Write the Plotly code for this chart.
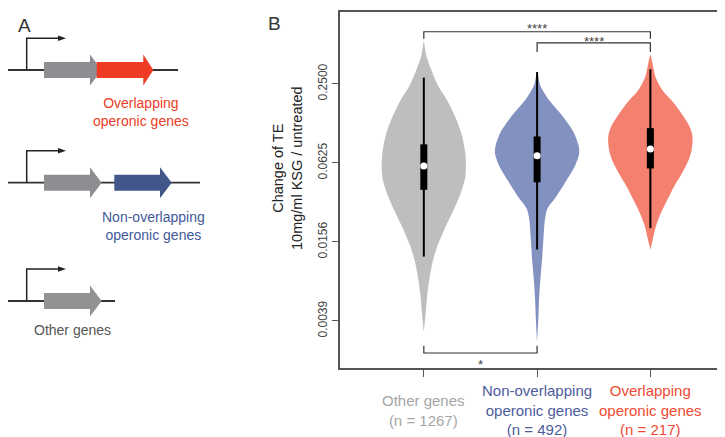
import plotly.graph_objects as go

# ---------------- data ----------------
categories = ["Other genes", "Non-overlapping<br>operonic genes", "Overlapping<br>operonic genes"]
counts = [1267, 492, 217]
label_colors = ["#A6A6A6", "#4D5C9C", "#EF4A33"]
fill_colors = ["#BEBEBE", "#8391C1", "#F4806F"]

# violin density profiles: log2(change of TE) and relative half-width
other_y = [-0.93, -1.27, -1.60, -2.03, -2.45, -2.87, -3.29, -3.71, -4.05, -4.39, -4.81,
           -5.23, -5.65, -6.08, -6.50, -6.92, -7.34, -7.76, -8.27]
other_w = [0, 0.055, 0.16, 0.33, 0.57, 0.76, 0.90, 0.98, 1.0, 0.98, 0.86,
           0.69, 0.50, 0.33, 0.21, 0.135, 0.08, 0.048, 0]
nonov_y = [-1.70, -2.03, -2.36, -2.78, -3.21, -3.54, -3.75, -4.05, -4.47, -4.89, -5.15,
           -5.40, -5.91, -6.41, -6.92, -7.43, -7.93, -8.52]
nonov_w = [0, 0.07, 0.25, 0.58, 0.86, 0.98, 1.0, 0.91, 0.68, 0.43, 0.25,
           0.19, 0.15, 0.12, 0.08, 0.048, 0.03, 0]
ov_y = [-1.27, -1.48, -1.82, -2.15, -2.49, -2.83, -3.08, -3.33, -3.67, -3.92, -4.26,
        -4.60, -4.94, -5.27, -5.61, -5.95, -6.19]
ov_w = [0, 0.05, 0.12, 0.28, 0.56, 0.79, 0.93, 1.0, 0.98, 0.91, 0.75,
        0.56, 0.40, 0.25, 0.13, 0.055, 0]

profiles_y = [other_y, nonov_y, ov_y]
profiles_w = [other_w, nonov_w, ov_w]

# box statistics (log2 units)
whisker_lo = [-6.37, -6.19, -5.65]
q1 = [-4.68, -4.49, -4.14]
median = [-4.08, -3.82, -3.65]
q3 = [-3.53, -3.33, -3.12]
whisker_hi = [-1.84, -1.70, -1.63]

# y tick labels
tick_log2 = [-2, -4, -6, -8]
tick_text = ["0.2500", "0.0625", "0.0156", "0.0039"]

# significance comparisons: (group a, group b, bracket level, tip level, stars, label level)
sig_pairs = [(0, 2, -0.68, -0.86, "****", -0.60),
             (1, 2, -0.96, -1.19, "****", -0.92),
             (0, 1, -8.81, -8.63, "*", -9.09)]

FONT = "Liberation Sans, Arial, sans-serif"
HALF_MAX = 0.372  # max half width of violins in category units

# page body has an 8px margin: figure is drawn offset by (8, 8)
OFF = 8
W, H = 725 - OFF, 437 - OFF


def px(x):
    return (x - OFF) / W


def py(y):
    return 1 - (y - OFF) / H


fig = go.Figure()

# violins
for i in range(3):
    ys = profiles_y[i]
    ws = profiles_w[i]
    xl = [i - w * HALF_MAX for w in ws]
    xr = [i + w * HALF_MAX for w in ws]
    fig.add_trace(go.Scatter(
        x=xl + xr[::-1], y=ys + ys[::-1], mode="lines", fill="toself",
        fillcolor=fill_colors[i], line=dict(width=0, shape="spline", smoothing=0.8),
        hoverinfo="skip", showlegend=False))

# whiskers, boxes, medians
for i in range(3):
    fig.add_trace(go.Scatter(x=[i, i], y=[whisker_lo[i], whisker_hi[i]], mode="lines",
                             line=dict(color="black", width=2), showlegend=False, hoverinfo="skip"))
    fig.add_trace(go.Scatter(x=[i, i], y=[q1[i], q3[i]], mode="lines",
                             line=dict(color="black", width=7), showlegend=False, hoverinfo="skip"))
fig.add_trace(go.Scatter(x=[0, 1, 2], y=median, mode="markers",
                         marker=dict(color="white", size=7, line=dict(width=0)),
                         showlegend=False, hoverinfo="skip"))

# significance brackets
for a, b, lvl, tip, stars, ly in sig_pairs:
    fig.add_trace(go.Scatter(x=[a, a, b, b], y=[tip, lvl, lvl, tip], mode="lines",
                             line=dict(color="#333333", width=1.2), showlegend=False, hoverinfo="skip"))
    fig.add_annotation(x=(a + b) / 2, y=ly, xref="x", yref="y", text=stars, showarrow=False,
                       font=dict(size=13, color="#444444", family=FONT), yanchor="middle")

# invisible trace for panel A axes
fig.add_trace(go.Scatter(x=[10], y=[10], xaxis="x2", yaxis="y2", mode="markers",
                         marker=dict(opacity=0), showlegend=False, hoverinfo="skip"))

fig.update_layout(
    width=W, height=H, margin=dict(l=0, r=0, t=0, b=0),
    paper_bgcolor="white", plot_bgcolor="white",
    font=dict(family=FONT, color="#333333"),
    xaxis=dict(domain=[px(340), px(724)], range=[-0.74, 2.65], showgrid=False, zeroline=False,
               showline=True, mirror=True, linecolor="#555555", linewidth=1.5,
               ticks="outside", ticklen=7, tickwidth=1.2, tickcolor="#555555",
               tickvals=[0, 1, 2], showticklabels=False),
    yaxis=dict(domain=[py(368), py(12)], range=[-9.19, -0.18], showgrid=False, zeroline=False,
               showline=True, mirror=True, linecolor="#555555", linewidth=1.5,
               ticks="outside", ticklen=6, tickwidth=1.2, tickcolor="#555555",
               tickvals=tick_log2, ticktext=tick_text, tickangle=-90,
               tickfont=dict(size=12, color="#444444", family=FONT)),
    # panel A drawing axes: units equal reference pixels
    xaxis2=dict(domain=[0, 220 / W], range=[OFF, 220 + OFF], visible=False, anchor="y2"),
    yaxis2=dict(domain=[0, 1], range=[437, OFF], visible=False, anchor="x2"),
)

# x category labels
for i in range(3):
    fig.add_annotation(x=i, y=py(410), xref="x", yref="paper",
                       text=f"{categories[i]}<br>(n = {counts[i]})", showarrow=False,
                       yanchor="middle", font=dict(size=15, color=label_colors[i], family=FONT))

# y axis title
fig.add_annotation(x=px(287), y=py(168), xref="paper", yref="paper",
                   text="Change of TE<br>10mg/ml KSG / untreated", textangle=-90, showarrow=False,
                   font=dict(size=14.5, color="#222222", family=FONT))

# panel letters
fig.add_annotation(x=px(16), y=py(13), xref="paper", yref="paper", text="A", showarrow=False,
                   font=dict(size=19, color="#333333", family=FONT))
fig.add_annotation(x=px(274), y=py(11), xref="paper", yref="paper", text="B", showarrow=False,
                   font=dict(size=19, color="#333333", family=FONT))

# ---------------- panel A schematic ----------------
shapes = []
gene_gray = "#8C8E91"


def arrow_path(x0, xh, xt, yc, bh, hh):
    return (f"M{x0},{yc - bh} L{xh},{yc - bh} L{xh},{yc - hh} L{xt},{yc} "
            f"L{xh},{yc + hh} L{xh},{yc + bh} L{x0},{yc + bh} Z")


def promoter(yc, ytop):
    shapes.append(dict(type="path", xref="x2", yref="y2",
                       path=f"M26.7,{yc} L26.7,{ytop} L59,{ytop}",
                       line=dict(color="#222222", width=1.5)))
    shapes.append(dict(type="path", xref="x2", yref="y2",
                       path=f"M58,{ytop - 2.8} L66,{ytop} L58,{ytop + 2.8} Z",
                       fillcolor="#222222", line=dict(width=0)))


rows = [
    (70, 38.3, 178),
    (182.7, 150.7, 200),
    (301, 269, 115),
]
for yc, ytop, xend in rows:
    shapes.append(dict(type="line", xref="x2", yref="y2", x0=8, x1=xend, y0=yc, y1=yc,
                       line=dict(color="#333333", width=1.8)))
    promoter(yc, ytop)

# row 1: gray + overlapping red
shapes.append(dict(type="path", xref="x2", yref="y2", path=arrow_path(44, 90, 101.7, 70, 8, 15.5),
                   fillcolor=gene_gray, line=dict(width=0)))
shapes.append(dict(type="path", xref="x2", yref="y2", path=arrow_path(96.7, 143.3, 153.3, 70, 8, 15.5),
                   fillcolor="#EF3B24", line=dict(width=0)))
# row 2: gray + separate blue
shapes.append(dict(type="path", xref="x2", yref="y2", path=arrow_path(44, 90, 101.7, 182.7, 8, 15.5),
                   fillcolor=gene_gray, line=dict(width=0)))
shapes.append(dict(type="path", xref="x2", yref="y2", path=arrow_path(114.3, 160, 171.7, 182.7, 8, 15.5),
                   fillcolor="#41578A", line=dict(width=0)))
# row 3: gray
shapes.append(dict(type="path", xref="x2", yref="y2", path=arrow_path(44, 90, 101.7, 301, 8, 15.5),
                   fillcolor="#909294", line=dict(width=0)))

fig.update_layout(shapes=shapes)

fig.add_annotation(x=141, y=112, xref="x2", yref="y2", text="Overlapping<br>operonic genes",
                   showarrow=False, yanchor="middle", font=dict(size=14, color="#EE3B24", family=FONT))
fig.add_annotation(x=153, y=225.5, xref="x2", yref="y2", text="Non-overlapping<br>operonic genes",
                   showarrow=False, yanchor="middle", font=dict(size=14, color="#43589A", family=FONT))
fig.add_annotation(x=72.5, y=330, xref="x2", yref="y2", text="Other genes",
                   showarrow=False, yanchor="middle", font=dict(size=14, color="#555555", family=FONT))

fig.write_html("out.html")
